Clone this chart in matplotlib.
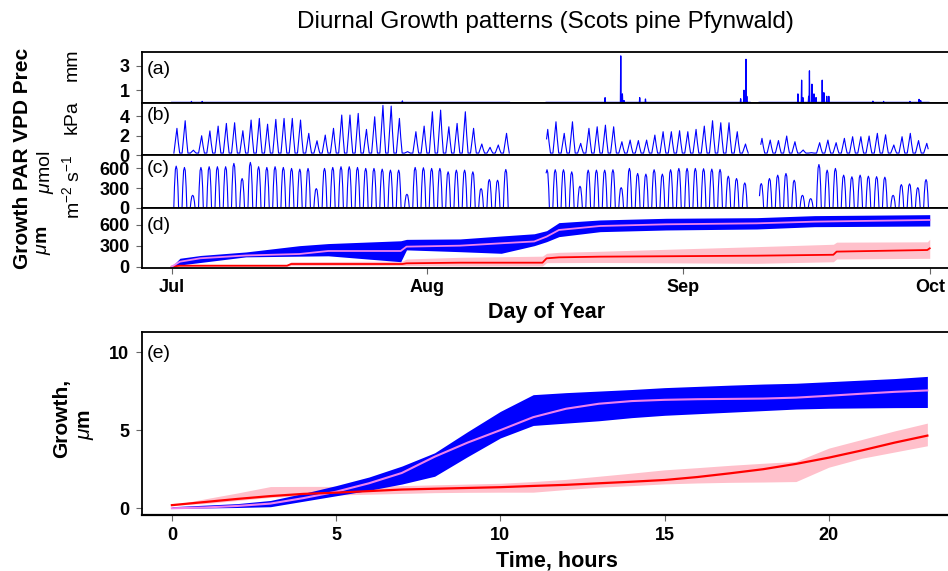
import numpy as np
import matplotlib
matplotlib.use('Agg')  # headless
import matplotlib.pyplot as plt

plt.rcParams['font.family'] = ['Liberation Sans', 'DejaVu Sans']
plt.rcParams['mathtext.fontset'] = 'custom'
plt.rcParams['mathtext.rm'] = 'Liberation Sans'
plt.rcParams['mathtext.it'] = 'Liberation Sans:italic'
plt.rcParams['mathtext.bf'] = 'Liberation Sans:bold'

# ---- season data (days since 1 July) ----
MONTH_TICKS = [0, 31, 62, 92]
MONTH_LABELS = ['Jul', 'Aug', 'Sep', 'Oct']

# logger segments (gaps in the met data)
SEG_START = [0.0, 45.45, 71.3]
SEG_END = [41.0, 70.2, 91.9]

# precipitation events, mm
PREC_DAY = [2.4, 3.7, 28.0, 52.6, 54.5, 54.7, 54.9, 56.8, 57.5, 69.05, 69.45, 69.7, 69.8,
            76.0, 76.45, 76.6, 77.3, 77.4, 77.7, 77.95, 78.2, 78.95, 79.15, 79.5, 79.75,
            85.1, 86.4, 89.6, 90.7, 90.9]
PREC_MM = [0.08, 0.08, 0.12, 0.39, 3.83, 0.7, 0.15, 0.39, 0.28, 0.3, 1.0, 3.55, 0.5,
           0.7, 1.83, 0.4, 0.5, 2.6, 1.5, 0.7, 0.4, 1.83, 0.8, 0.5, 0.5,
           0.1, 0.08, 0.08, 0.25, 0.15]

nan = np.nan
# daily VPD maxima, kPa
VPD_PEAK = [2.77, 3.56, 0.5, 2.0, 2.5, 3.0, 3.28, 3.35, 2.52, 3.63,
            3.8, 3.2, 3.7, 3.8, 3.8, 3.63, 2.25, 1.48, 2.07, 2.77,
            4.15, 4.15, 4.32, 2.66, 3.97, 5.15, 5.08, 3.8, 0.35, 2.42,
            3.0, 4.49, 4.66, 2.93, 3.28, 4.49, 2.77, 1.14, 0.8, 1.04,
            2.25, nan, nan, nan, nan, 2.66, 3.45, 2.25, 3.45, 1.21,
            2.77, 2.93, 3.1, 2.93, 1.38, 1.55, 1.5, 1.55, 2.07, 2.42,
            2.42, 2.52, 2.42, 2.66, 3.0, 3.56, 3.35, 3.35, 2.42, 1.14,
            nan, 1.73, 1.55, 1.5, 1.97, 1.38, 0.52, 0.24, 1.28, 1.55,
            1.28, 1.73, 1.9, 1.9, 1.97, 2.25, 2.1, 1.04, 1.9, 2.25,
            1.5, 1.21]
VPD_NIGHT = 0.2

# daily PAR maxima, umol m-2 s-1
PAR_PEAK = [635, 615, 189, 615, 626, 626, 626, 677, 446, 692,
            626, 615, 626, 615, 600, 589, 600, 292, 600, 615,
            626, 626, 615, 600, 600, 589, 574, 574, 205, 615,
            610, 600, 600, 548, 574, 574, 548, 292, 430, 420,
            584, nan, nan, nan, nan, 580, 580, 580, 548, 328,
            574, 574, 574, 580, 307, 600, 523, 513, 580, 513,
            580, 600, 600, 600, 595, 590, 585, 481, 446, 379,
            nan, 369, 446, 497, 523, 420, 189, 138, 660, 574,
            600, 497, 472, 497, 481, 474, 466, 189, 353, 364,
            307, 430]

# cumulative growth, um (breakpoints)
GROW_DAY = [0, 1, 3.5, 9, 15.5, 19, 27.8, 28.5, 35, 40, 44, 45.5, 47, 52, 60, 71, 78, 92]
BLUE_MEAN = [0, 71, 120, 160, 181, 224, 224, 286, 300, 334, 360, 429, 524, 581, 605, 619, 643, 667]
BLUE_LO = [0, 24, 60, 140, 150, 155, 71, 240, 214, 191, 300, 357, 429, 500, 524, 538, 571, 581]
BLUE_HI = [0, 120, 160, 210, 300, 330, 370, 390, 396, 438, 470, 514, 629, 667, 691, 700, 729, 743]

RED_DAY = [0, 1, 14, 14.5, 28, 28.5, 35, 45, 45.5, 47, 52, 71, 80.3, 80.7, 91.7, 92]
RED_MEAN = [0, 14, 14, 38, 38, 48, 57, 57, 119, 133, 143, 157, 170, 215, 238, 262]
PINK_LO = [0, 0, 5, 15, 15, 15, 10, 10, 57, 58, 60, 48, 70, 110, 119, 119]
PINK_HI = [0, 25, 30, 70, 80, 110, 134, 150, 191, 205, 220, 286, 320, 350, 355, 391]

# ---- mean diurnal course (hour of day) ----
HOURS = list(range(24))
E_BLUE_MEAN = [0.0, 0.05, 0.15, 0.3, 0.65, 1.06, 1.6, 2.26, 3.3, 4.2, 5.0, 5.83,
               6.37, 6.69, 6.86, 6.94, 6.98, 7.0, 7.02, 7.08, 7.2, 7.33, 7.45, 7.54]
E_BLUE_LO = [0.0, 0.02, 0.05, 0.1, 0.45, 0.8, 1.15, 1.55, 2.05, 3.3, 4.5, 5.3,
             5.45, 5.6, 5.8, 5.95, 6.05, 6.15, 6.25, 6.35, 6.4, 6.42, 6.44, 6.45]
E_BLUE_HI = [0.1, 0.2, 0.3, 0.5, 0.95, 1.45, 2.0, 2.7, 3.55, 4.9, 6.2, 7.27,
             7.4, 7.5, 7.6, 7.72, 7.8, 7.88, 7.95, 8.0, 8.1, 8.2, 8.3, 8.44]
E_RED_MEAN = [0.2, 0.4, 0.6, 0.78, 0.92, 1.0, 1.1, 1.2, 1.25, 1.3, 1.35, 1.43,
              1.5, 1.6, 1.7, 1.81, 2.0, 2.24, 2.5, 2.84, 3.24, 3.7, 4.2, 4.65]
E_PINK_LO = [0.2, 0.3, 0.5, 0.7, 0.8, 0.85, 0.9, 0.95, 1.0, 1.02, 1.03, 1.03,
             1.2, 1.35, 1.45, 1.56, 1.62, 1.66, 1.68, 1.71, 2.63, 3.2, 3.6, 4.0]
E_PINK_HI = [0.2, 0.6, 0.98, 1.39, 1.4, 1.4, 1.42, 1.45, 1.5, 1.55, 1.6, 1.71,
             1.85, 2.05, 2.25, 2.46, 2.6, 2.75, 2.88, 3.0, 3.85, 4.4, 4.95, 5.45]

# where in the day the vertices of a daily cycle sit (fraction of day, fraction of max)
VPD_SHAPE_T = [0.27, 0.5, 0.64, 0.8, 0.97]
VPD_SHAPE_F = [0.0, 0.6, 1.0, 0.45, 0.0]
PAR_SHAPE_T = [0.26, 0.34, 0.45, 0.55, 0.65, 0.76, 0.84]
PAR_SHAPE_F = [0.0, 0.5, 0.92, 1.0, 0.92, 0.5, 0.0]


def in_segment(t):
    return any(s <= t <= e for s, e in zip(SEG_START, SEG_END))


def daily_line(peaks, shape_t, shape_f, base):
    """Night value -> daily max -> night value for every day, broken at the gaps."""
    t, v = [], []
    for d, p in enumerate(peaks):
        for ft, ff in zip(shape_t, shape_f):
            tt = d + ft
            t.append(tt)
            ok = in_segment(tt) and not np.isnan(p)
            v.append(base + ff * (p - base) if ok else nan)
    return np.array(t), np.array(v)


def prec_line():
    t, v = [], []
    step = 1 / 24
    for s, e in zip(SEG_START, SEG_END):
        t.append(s); v.append(0)
        for day, mm in zip(PREC_DAY, PREC_MM):
            if s <= day <= e:
                t += [day - step, day, day + step]
                v += [0, mm, 0]
        t += [e, e + 0.01]
        v += [0, nan]
    return t, v


def style_axis(ax):
    for side in ['left', 'top', 'bottom']:
        ax.spines[side].set_linewidth(1.3)
    ax.spines['right'].set_visible(False)
    ax.tick_params(axis='both', colors='#666666', length=4, width=0.8, pad=5,
                   labelsize=13, labelcolor='black')
    for lab in ax.get_yticklabels() + ax.get_xticklabels():
        lab.set_fontweight('bold')


fig = plt.figure(figsize=(9.48, 5.71), dpi=100)
W, H = 948.0, 571.0
left = 142 / W
width = (952 - 142) / W


def add_panel(top_px, bot_px):
    return fig.add_axes([left, 1 - bot_px / H, width, (bot_px - top_px) / H])


def px_text(x_px, y_px, s, **kw):
    fig.text(x_px / W, 1 - y_px / H, s, **kw)


ax_a = add_panel(52, 103)
ax_b = add_panel(103, 155)
ax_c = add_panel(155, 208)
ax_d = add_panel(208, 268)
ax_e = add_panel(332, 515)

xlim = (-3.6, 94.7)

# (a) precipitation
t, v = prec_line()
ax_a.plot(t, v, color='blue', lw=0.9)
ax_a.set_ylim(-0.05, 4.15)
ax_a.set_yticks([1, 3])

# (b) VPD
t, v = daily_line(VPD_PEAK, VPD_SHAPE_T, VPD_SHAPE_F, VPD_NIGHT)
ax_b.plot(t, v, color='blue', lw=0.8)
ax_b.set_ylim(0, 5.4)
ax_b.set_yticks([0, 2, 4])

# (c) PAR
t, v = daily_line(PAR_PEAK, PAR_SHAPE_T, PAR_SHAPE_F, 0)
ax_c.plot(t, v, color='blue', lw=0.8)
ax_c.set_ylim(-5, 805)
ax_c.set_yticks([0, 300, 600])

# (d) cumulative growth
ax_d.fill_between(RED_DAY, PINK_LO, PINK_HI, color='pink', lw=0)
ax_d.fill_between(GROW_DAY, BLUE_LO, BLUE_HI, color='blue', lw=0)
ax_d.plot(RED_DAY, RED_MEAN, color='red', lw=1.3)
ax_d.plot(GROW_DAY, BLUE_MEAN, color='violet', lw=1.3)
ax_d.set_ylim(-19, 838)
ax_d.set_yticks([0, 300, 600])

for ax in [ax_a, ax_b, ax_c, ax_d]:
    ax.set_xlim(*xlim)
    ax.set_xticks([])
ax_d.set_xticks(MONTH_TICKS)
ax_d.set_xticklabels(MONTH_LABELS)

for ax in [ax_a, ax_b, ax_c, ax_d]:
    style_axis(ax)
ax_d.tick_params(axis='x', pad=4)
ax_d.set_xlabel('Day of Year', fontsize=15.5, fontweight='bold', labelpad=4)

# (e) mean diurnal growth
ax_e.fill_between(HOURS, E_PINK_LO, E_PINK_HI, color='pink', lw=0)
ax_e.fill_between(HOURS, E_BLUE_LO, E_BLUE_HI, color='blue', lw=0)
ax_e.plot(HOURS, E_BLUE_MEAN, color='violet', lw=1.5)
ax_e.plot(HOURS, E_RED_MEAN, color='red', lw=1.6)
ax_e.set_xlim(-0.91, 23.75)
ax_e.set_ylim(-0.43, 11.28)
ax_e.set_xticks([0, 5, 10, 15, 20])
ax_e.set_yticks([0, 5, 10])
style_axis(ax_e)
ax_e.spines['bottom'].set_linewidth(1.6)

# panel letters
for lab, y_px in zip(['(a)', '(b)', '(c)', '(d)', '(e)'], [69, 116, 169, 226, 354]):
    px_text(147, y_px, lab, fontsize=14, ha='left', va='center')

px_text(557, 561, 'Time, hours', fontsize=15.5, fontweight='bold', ha='center', va='center')
px_text(545, 22, 'Diurnal Growth patterns (Scots pine Pfynwald)', fontsize=17.5,
        ha='center', va='center')

# left hand y-labels
vert = dict(rotation=90, ha='center', va='center', fontsize=14)
px_text(23, 158, 'Growth PAR VPD Prec', fontweight='bold', **dict(vert, fontsize=15))
px_text(44, 240, r'$\mu$m', fontweight='bold', **vert)
px_text(45, 172, r'$\mu$mol', **vert)
px_text(72, 187, r'm$^{-2}$ s$^{-1}$', **vert)
px_text(72, 117, 'kPa', **vert)
px_text(72, 65, 'mm', **vert)

px_text(62, 418, 'Growth,', fontweight='bold', **dict(vert, fontsize=15))
px_text(86, 424, r'$\mu$m', fontweight='bold', **dict(vert, fontsize=15))

fig.savefig('out.png', dpi=100)
